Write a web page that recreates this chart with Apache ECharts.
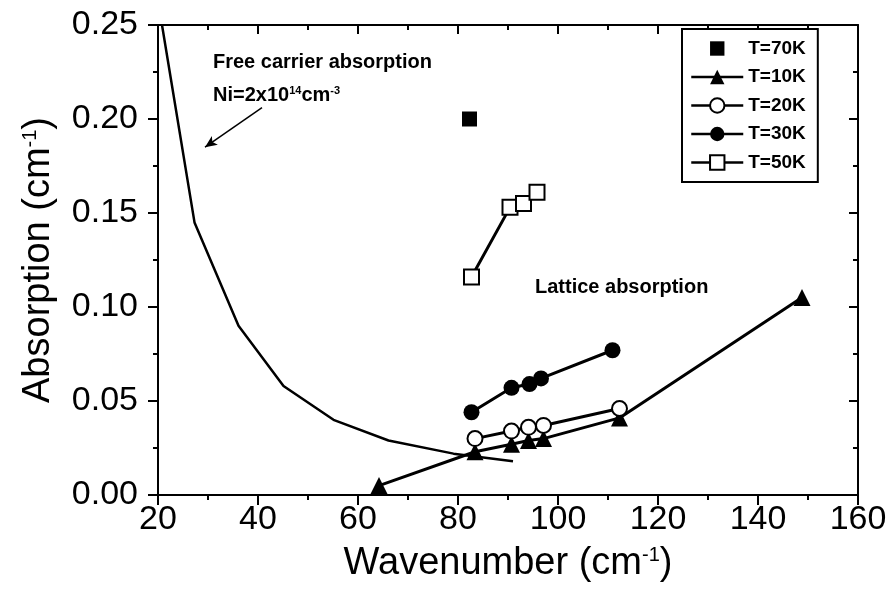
<!DOCTYPE html>
<html>
<head>
<meta charset="utf-8">
<script src="https://cdn.jsdelivr.net/npm/echarts@6/dist/echarts.min.js"></script>
<style>
  html, body { margin: 0; padding: 0; background: #fff; }
  #chartsDom { width: 892px; height: 590px; }
</style>
</head>
<body>
<div id="chartsDom"></div>
<script>
// data: [wavenumber cm^-1, absorption cm^-1]
const t70 = [[82.3, 0.200]];
const t10 = [[64.2, 0.005], [83.4, 0.023], [90.7, 0.027], [94.1, 0.029], [97.1, 0.030], [112.3, 0.041], [148.8, 0.105]];
const t20 = [[83.4, 0.030], [90.7, 0.034], [94.1, 0.036], [97.1, 0.037], [112.3, 0.046]];
const t30 = [[82.7, 0.044], [90.7, 0.057], [94.3, 0.059], [96.6, 0.062], [110.9, 0.077]];
const t50 = [[82.7, 0.116], [90.4, 0.153], [93.1, 0.155], [95.8, 0.161]];
// free carrier absorption curve
const freeCarrier = [[20.8, 0.25], [27.3, 0.145], [36.1, 0.090], [45.1, 0.058], [55.1, 0.040], [66.1, 0.029], [79.1, 0.022], [91.0, 0.018]];
// axis ranges / tick steps
const xRange = [20, 160, 20];
const yRange = [0, 0.25, 0.05];
const legendNames = ['T=70K', 'T=10K', 'T=20K', 'T=30K', 'T=50K'];

const black = '#000';
const font = 'Liberation Sans, Arial, sans-serif';

const myChart = echarts.init(document.getElementById('chartsDom'));

const line = { color: black, width: 2 };
const seriesLine = { color: black, width: 3 };

// mirrored axes (top / right) with inward ticks
function mirror(range, pos) {
  return {
    type: 'value', min: range[0], max: range[1], interval: range[2], position: pos,
    axisLine: { show: true, onZero: false, lineStyle: line },
    axisTick: { show: true, inside: true, length: 9, lineStyle: line },
    minorTick: { show: true, splitNumber: 2, length: 5, lineStyle: line },
    axisLabel: { show: false },
    splitLine: { show: false }
  };
}

let option = {
  animation: false,
  backgroundColor: '#fff',
  textStyle: { fontFamily: font },
  grid: { left: 158, right: 34, top: 25, bottom: 95 },
  legend: {
    // 70K is a lone point: no line in its legend icon
    data: legendNames.map((n, i) => ({
      name: n,
      lineStyle: i === 0 ? { opacity: 0 } : { color: black, width: 2.5 }
    })),
    orient: 'vertical',
    left: 682,
    top: 29,
    itemWidth: 52,
    itemHeight: 18,
    itemGap: 9.5,
    padding: [10, 12, 10, 8],
    borderColor: black,
    borderWidth: 2,
    backgroundColor: '#fff',
    textStyle: { fontSize: 19, fontWeight: 'bold', color: black, lineHeight: 18, fontFamily: font }
  },
  xAxis: [
    {
      type: 'value', min: xRange[0], max: xRange[1], interval: xRange[2], position: 'bottom',
      name: 'Wavenumber (cm{sup|-1})',
      nameLocation: 'middle',
      nameGap: 50,
      nameTextStyle: { fontSize: 38, color: black, rich: { sup: { fontSize: 20, verticalAlign: 'top' } } },
      axisLine: { onZero: false, lineStyle: line },
      axisTick: { length: 10, lineStyle: line },
      minorTick: { show: true, splitNumber: 2, length: 5, lineStyle: line },
      axisLabel: { fontSize: 34, color: black, margin: 8 },
      splitLine: { show: false }
    },
    mirror(xRange, 'top')
  ],
  yAxis: [
    {
      type: 'value', min: yRange[0], max: yRange[1], interval: yRange[2], position: 'left',
      name: 'Absorption (cm{sup|-1})',
      nameLocation: 'middle',
      nameRotate: 90,
      nameGap: 100,
      nameTextStyle: { fontSize: 38, color: black, rich: { sup: { fontSize: 20, verticalAlign: 'top' } } },
      axisLine: { onZero: false, lineStyle: line },
      axisTick: { length: 10, lineStyle: line },
      minorTick: { show: true, splitNumber: 2, length: 5, lineStyle: line },
      axisLabel: { fontSize: 34, color: black, margin: 20, formatter: v => v.toFixed(2) },
      splitLine: { show: false }
    },
    mirror(yRange, 'right')
  ],
  graphic: [
    {
      type: 'text', left: 213, top: 52,
      style: { text: 'Free carrier absorption', fontSize: 20, fontWeight: 'bold', fontFamily: font, fill: black }
    },
    {
      type: 'text', left: 213, top: 85,
      style: {
        text: 'Ni=2x10{s|14}cm{s|-3}', fontSize: 20, fontWeight: 'bold', fontFamily: font, fill: black,
        rich: { s: { fontSize: 11, fontWeight: 'bold', verticalAlign: 'top' } }
      }
    },
    {
      type: 'text', left: 535, top: 277,
      style: { text: 'Lattice absorption', fontSize: 20, fontWeight: 'bold', fontFamily: font, fill: black }
    }
  ],
  series: [
    {
      name: 'T=70K', type: 'line', data: t70,
      symbol: 'rect', symbolSize: 15,
      itemStyle: { color: black },
      lineStyle: { opacity: 0 }
    },
    {
      name: 'T=10K', type: 'line', data: t10,
      symbol: 'triangle', symbolSize: 17,
      itemStyle: { color: black },
      lineStyle: seriesLine
    },
    {
      name: 'T=20K', type: 'line', data: t20,
      symbol: 'circle', symbolSize: 15,
      itemStyle: { color: '#fff', borderColor: black, borderWidth: 2 },
      lineStyle: seriesLine
    },
    {
      name: 'T=30K', type: 'line', data: t30,
      symbol: 'circle', symbolSize: 16,
      itemStyle: { color: black },
      lineStyle: seriesLine
    },
    {
      name: 'T=50K', type: 'line', data: t50,
      symbol: 'rect', symbolSize: 15,
      itemStyle: { color: '#fff', borderColor: black, borderWidth: 2 },
      lineStyle: seriesLine
    },
    {
      name: 'free carrier', type: 'line', data: freeCarrier,
      symbol: 'none', z: 1,
      lineStyle: { color: black, width: 2.5 },
      markLine: {
        silent: true,
        symbol: ['none', 'arrow'],
        symbolSize: [8, 12],
        label: { show: false },
        lineStyle: { color: black, width: 1.5, type: 'solid' },
        data: [[{ coord: [40.8, 0.206] }, { coord: [29.4, 0.185] }]]
      }
    }
  ]
};
option && myChart.setOption(option);
</script>
</body>
</html>
